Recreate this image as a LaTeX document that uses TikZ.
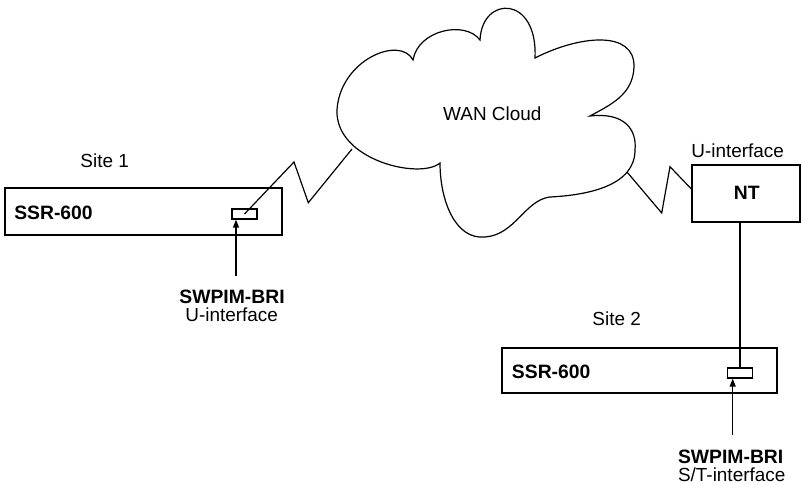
\documentclass[tikz,border=0pt]{standalone}
\usepackage{fontspec}
\setmainfont{Liberation Sans}
\usetikzlibrary{arrows.meta,calc}
\tikzset{
  lbl/.style={inner sep=0pt, font=\fontsize{14.2}{16}\selectfont},
  blbl/.style={inner sep=0pt, font=\fontsize{14.5}{16}\selectfont\bfseries},
  box/.style={draw, line width=0.9pt, inner sep=0pt},
  port/.style={draw, line width=0.9pt, inner sep=0pt, minimum width=18.75pt, minimum height=7.5pt},
  wire/.style={line width=0.9pt, line join=miter},
  ptr/.style={line width=0.9pt, -{Triangle[length=6pt,width=4.5pt]}}
}
\begin{document}
\begin{tikzpicture}[x=0.75pt,y=-0.75pt]
\useasboundingbox (0,0) rectangle (801,485);
% cloud
\draw[line width=0.9pt, line join=miter]
  (413,60) .. controls (400,35) and (340,60) .. (337,110)
  .. controls (335,160) and (420,180) .. (440,163)
  .. controls (440,200) and (455,240) .. (485,237)
  .. controls (515,235) and (525,200) .. (550,197)
  .. controls (590,195) and (635,185) .. (635,150)
  .. controls (637,130) and (625,112) .. (590,116)
  .. controls (610,105) and (633,95) .. (634,67)
  .. controls (635,30) and (580,35) .. (535,58)
  .. controls (538,-5) and (482,-5) .. (480,40)
  .. controls (465,20) and (418,30) .. (413,60) -- cycle;
\coordinate (cl) at (352,149);
\coordinate (cr) at (627,172);
\node[lbl] (wan) at (492.3,113.3) {WAN Cloud};

% site 1
\node[lbl] (site1) at (104.7,160.7) {Site 1};
\node[box, minimum width=207.75pt, minimum height=35.25pt] (ssr1) at (143.5,211.5) {};
\node[blbl, anchor=west] (ssr1t) at (14,212.7) {SSR-600};
\node[port] (p1) at (244.5,214) {};
\draw[wire] (p1.center) -- (294,162) -- (308.3,202.7) -- (cl);
\coordinate (a1) at (236,276);
\draw[ptr] (a1) -- (a1 |- p1.south);
\node[blbl] (sw1) at (232,296.7) {SWPIM-BRI};
\node[lbl] (ui1) at (231.7,315) {U-interface};

% NT
\node[box, minimum width=81pt, minimum height=42.75pt] (nt) at (746,193.5) {};
\node[blbl] (ntt) at (746.7,193.3) {NT};
\node[lbl] (ui2) at (737.7,150.7) {U-interface};
\coordinate (ntl) at (692.3,190);
\draw[wire] (cr) -- (661.7,213) -- (670,166.7) -- (ntl);

% site 2
\node[lbl] (site2) at (616.7,318.3) {Site 2};
\node[box, minimum width=206.25pt, minimum height=33.75pt] (ssr2) at (639.5,370.5) {};
\node[blbl, anchor=west] (ssr2t) at (511.7,371.7) {SSR-600};
\node[port] (p2) at (740,373) {};
\draw[wire] (p2.north) -- (p2.north |- nt.south);
\coordinate (a2) at (732.7,435);
\draw[ptr] (a2) -- (a2 |- p2.south);
\node[blbl] (sw2) at (730.7,456.7) {SWPIM-BRI};
\node[lbl] (st2) at (731.7,475) {S/T-interface};
\end{tikzpicture}
\end{document}
